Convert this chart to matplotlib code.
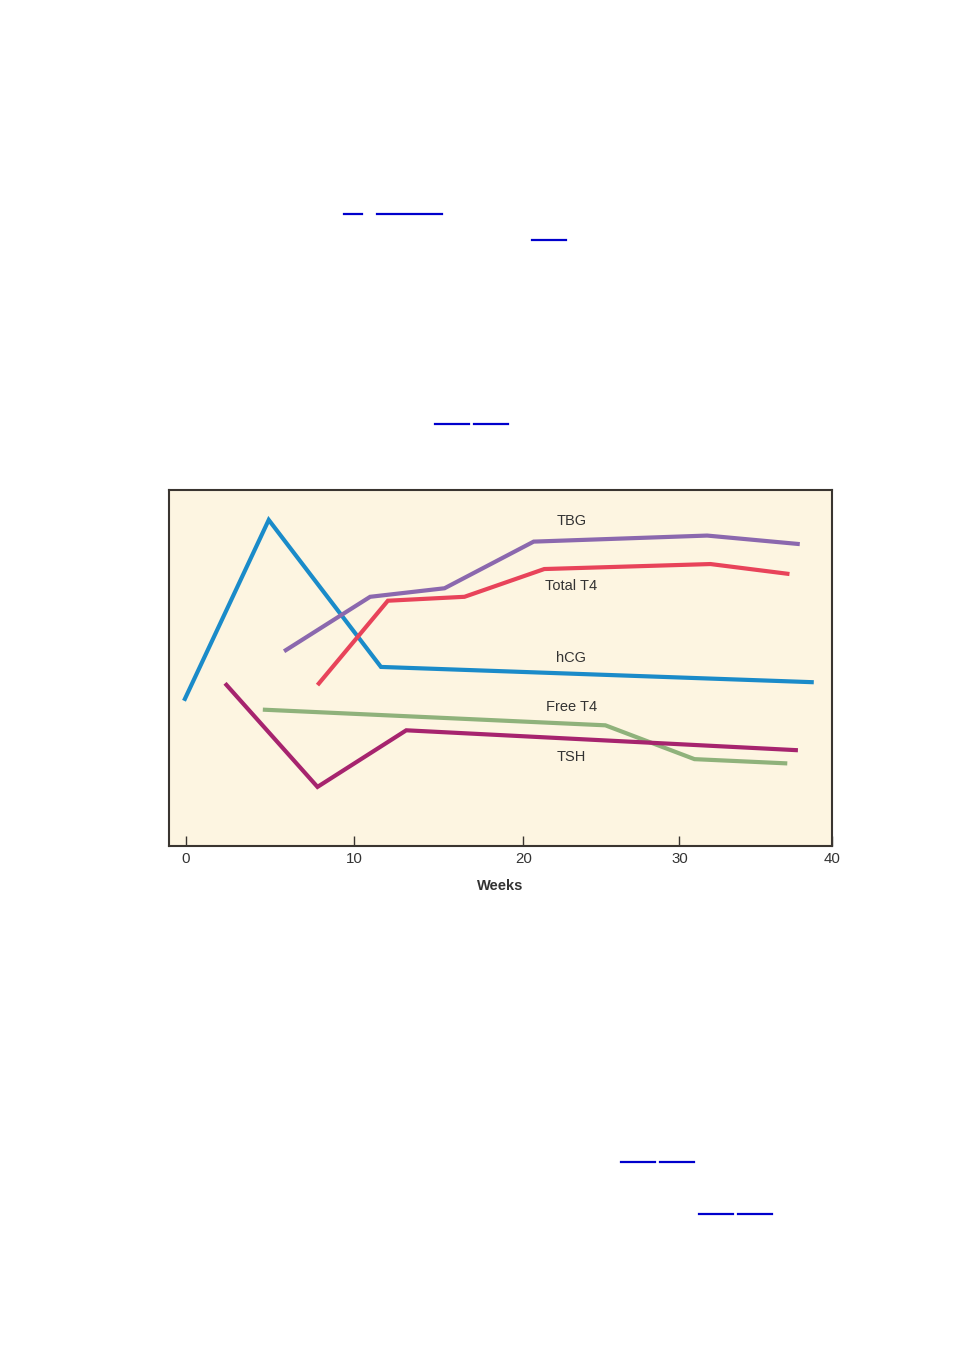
import matplotlib
matplotlib.use("Agg")
import matplotlib.pyplot as plt
from matplotlib.lines import Line2D

plt.rcParams['font.family'] = ['Liberation Sans', 'DejaVu Sans']

# x in weeks (scale of the drawn axis), y in relative units 0-100
hcg_x = [-0.1, 4.92, 11.57, 37.22]
hcg_y = [40.8, 91.6, 50.3, 46.0]

tbg_x = [5.83, 10.93, 15.34, 20.62, 30.90, 36.39]
tbg_y = [54.7, 70.0, 72.4, 85.5, 87.2, 84.8]

tt4_x = [7.81, 11.98, 16.52, 21.25, 31.10, 35.78]
tt4_y = [45.2, 68.9, 70.0, 77.8, 79.2, 76.4]

ft4_x = [4.57, 24.87, 30.15, 35.65]
ft4_y = [38.3, 33.9, 24.4, 23.2]

tsh_x = [2.33, 7.81, 13.07, 36.28]
tsh_y = [45.7, 16.6, 32.5, 26.9]

labels = ["TBG", "Total T4", "hCG", "Free T4", "TSH"]
label_x = 22.86
label_y = [91.3, 72.9, 52.8, 39.1, 25.0]

tick_pos = [0, 10, 20, 29.26, 38.3]
tick_labels = ["0", "10", "20", "30", "40"]

# blue link underlines on the page (figure pixels: x0, x1, y)
underlines = [(344, 362, 214), (377, 442, 214), (532, 566, 240),
              (435, 469, 424), (474, 508, 424),
              (621, 655, 1162), (660, 694, 1162),
              (699, 733, 1214), (738, 772, 1214)]

W, H = 954, 1350
fig = plt.figure(figsize=(W / 100, H / 100), dpi=100)
ax = fig.add_axes([169 / W, 1 - 846 / H, (832 - 169) / W, (846 - 490) / H])
ax.set_facecolor('#fdf5e1')

style = dict(lw=3.0, solid_joinstyle='miter', solid_capstyle='butt')
ax.plot(hcg_x, hcg_y, color='#1a8bc9', **style)
ax.plot(tbg_x, tbg_y, color='#8b68ae', **style)
ax.plot(tt4_x, tt4_y, color='#e8435a', **style)
ax.plot(ft4_x, ft4_y, color='#8fb27b', **style)
ax.plot(tsh_x, tsh_y, color='#a6246e', **style)

for lab, ly in zip(labels, label_y):
    ax.text(label_x, ly, lab, ha='center', va='center', fontsize=10.5, color='#333333')

ax.set_xlim(-0.99, 38.3)
ax.set_ylim(0, 100)
ax.set_xticks(tick_pos)
ax.set_xticklabels(tick_labels)
ax.set_yticks([])
ax.tick_params(axis='x', direction='in', length=7, width=1, color='#3a3530',
               pad=4.5, labelsize=10.8, labelcolor='#333333')
for s in ax.spines.values():
    s.set_color('#3a3530')
    s.set_linewidth(1.5)
ax.set_xlabel('Weeks', fontsize=10.5, fontweight='bold', color='#333333', labelpad=9.5)

for x0, x1, y in underlines:
    fig.add_artist(Line2D([x0 / W, x1 / W], [1 - y / H, 1 - y / H],
                          transform=fig.transFigure, color='#0000cc', lw=1.6))

fig.savefig('out.png', dpi=100)
